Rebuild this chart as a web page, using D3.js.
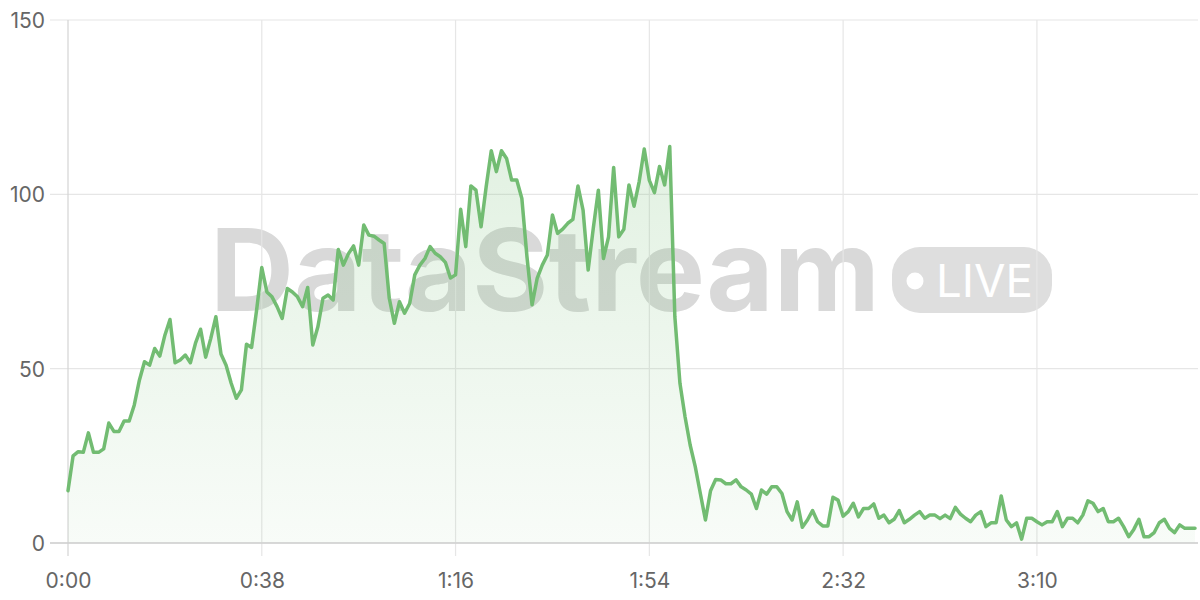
<!DOCTYPE html>
<html>
<head>
<meta charset="utf-8">
<script src="https://cdn.jsdelivr.net/npm/d3@7"></script>
<style>
html,body{margin:0;padding:0;background:#fff;}
svg{display:block;}
text{font-family:Inter,"Liberation Sans",Arial,sans-serif;}
</style>
</head>
<body>
<svg id="chart" width="1200" height="600"></svg>
<script>
// ---- data ----
const values = [
15,25,26.2,26,31.6,26,26,27,34.4,32,32,35,35,39.6,46.7,52,51,55.8,53.6,59.6,
64.1,51.7,52.5,53.9,51.7,57.3,61.3,53.3,58.7,64.9,54.2,51,45.8,41.5,43.9,57,56.1,67,79,72,
70.6,67.8,64.4,73,72,70.6,67.8,73.3,56.8,62,70.2,71.1,69.7,84.2,79.7,83,85.2,79.7,91.2,88.3,
88,86.9,85.9,70.2,63,69.2,65.9,68.7,76.9,79.7,81.6,85,83.1,82.1,80.5,76,76.9,95.7,85,102.4,
101.2,90.7,102.2,112.5,106.5,112.5,110.3,104.1,104.1,98.8,82.1,68.3,75.9,79.7,82.6,94.1,88.8,90,91.7,92.8,
102.4,95.5,78.3,90.2,101.2,81.6,87.8,107.7,87.8,90,102.7,96.6,103.6,113,104,100.5,108,102.7,113.7,64.9,
45.8,36.2,28.1,21.9,14.2,6.6,15,18.2,18.1,17,17,18.1,16.1,15.2,14,9.9,15.2,14,16.1,16.1,
14.2,9,6.6,11.8,4.5,6.6,9.3,6.1,4.9,4.9,13.1,12.3,7.7,9,11.4,7.5,9.9,9.9,11.2,7.1,
8,5.8,6.8,9.3,5.8,6.8,8,9,7.1,8,8,7,8,7,10.2,8.3,7.1,6.1,8,9,
4.7,5.8,5.8,13.5,6.6,4.7,5.8,1.1,7.1,7.1,6.1,5.2,6.1,6.1,9,4.7,7.1,7.1,5.8,8,
12.1,11.4,9,9.9,6.1,6.1,7.1,4.7,1.8,3.9,6.8,1.8,1.8,3,5.8,6.8,4.2,3,5.2,4.2,
4.2,4.2
];
const seconds = values.map((v, i) => i);          // one sample per second
const xTickValues = [0, 38, 76, 114, 152, 190];
const xTickLabels = ["0:00", "0:38", "1:16", "1:54", "2:32", "3:10"];
const yTickValues = [0, 50, 100, 150];
const watermarkText = "DataStream";
const badgeText = "LIVE";

(function () {
// ---- layout ----
const svg = d3.select("#chart");
const pLeft = 68, pRight = 1195, pTop = 20, pBottom = 543, gridRight = 1198;

const x = d3.scaleLinear().domain([0, 221]).range([pLeft, pRight]);
const y = d3.scaleLinear().domain([0, 150]).range([pBottom, pTop]);

// watermark (behind everything)
const wm = svg.append("g");
wm.append("text")
  .attr("x", 210).attr("y", 311)
  .attr("font-size", 114).attr("font-weight", 700)
  .attr("textLength", 670).attr("lengthAdjust", "spacingAndGlyphs")
  .attr("fill", "#d9d9d9")
  .text(watermarkText);
wm.append("rect")
  .attr("x", 892).attr("y", 247).attr("width", 160).attr("height", 66)
  .attr("rx", 28).attr("fill", "#dedede");
wm.append("circle").attr("cx", 915).attr("cy", 281).attr("r", 8.5).attr("fill", "#fff");
wm.append("text")
  .attr("x", 936).attr("y", 297)
  .attr("font-size", 45).attr("font-weight", 400)
  .attr("textLength", 97).attr("lengthAdjust", "spacingAndGlyphs")
  .attr("fill", "#fff")
  .text(badgeText);

// gradient
const defs = svg.append("defs");
const grad = defs.append("linearGradient").attr("id", "fillGrad")
  .attr("gradientUnits", "userSpaceOnUse")
  .attr("x1", 0).attr("y1", pTop).attr("x2", 0).attr("y2", pBottom);
grad.append("stop").attr("offset", "0%").attr("stop-color", "#74bd74").attr("stop-opacity", 0.26);
grad.append("stop").attr("offset", "100%").attr("stop-color", "#74bd74").attr("stop-opacity", 0.05);

// horizontal grid
svg.append("g").selectAll("line").data(yTickValues).join("line")
  .attr("x1", 50).attr("x2", gridRight)
  .attr("y1", d => y(d)).attr("y2", d => y(d))
  .attr("stroke", "#e6e6e6").attr("stroke-width", 1.2);

// vertical grid
svg.append("g").selectAll("line").data(xTickValues).join("line")
  .attr("x1", d => x(d)).attr("x2", d => x(d))
  .attr("y1", pTop).attr("y2", 556)
  .attr("stroke", (d, i) => i === 0 ? "#d4d4d4" : "#e6e6e6").attr("stroke-width", 1.2);

// area + line
const area = d3.area().x((d, i) => x(seconds[i])).y0(pBottom).y1(d => y(d));
const line = d3.line().x((d, i) => x(seconds[i])).y(d => y(d));

svg.append("path").datum(values).attr("d", area).attr("fill", "url(#fillGrad)");

// bottom axis line
svg.append("line").attr("x1", 50).attr("x2", gridRight).attr("y1", pBottom).attr("y2", pBottom)
  .attr("stroke", "#cfcfcf").attr("stroke-width", 1.5);

svg.append("path").datum(values).attr("d", line)
  .attr("fill", "none").attr("stroke", "#72bc72").attr("stroke-width", 3.5)
  .attr("stroke-linejoin", "round").attr("stroke-linecap", "round");

// y labels via axis
const yAxis = d3.axisLeft(y).tickValues(yTickValues).tickSize(0).tickPadding(0);
const gy = svg.append("g").attr("transform", "translate(45,0)").call(yAxis);
gy.select(".domain").remove();
gy.selectAll("text").attr("font-size", 21).attr("fill", "#666")
  .attr("font-family", "Inter, 'Liberation Sans', Arial, sans-serif").attr("dx", 0).attr("dy", "0.36em");

// x labels via axis
const xAxis = d3.axisBottom(x).tickValues(xTickValues).tickFormat((d, i) => xTickLabels[i]).tickSize(0).tickPadding(0);
const gx = svg.append("g").attr("transform", "translate(0,580)").call(xAxis);
gx.select(".domain").remove();
gx.selectAll("text").attr("font-size", 21).attr("fill", "#666")
  .attr("font-family", "Inter, 'Liberation Sans', Arial, sans-serif").attr("dy", "0.36em");
})();
</script>
</body>
</html>
